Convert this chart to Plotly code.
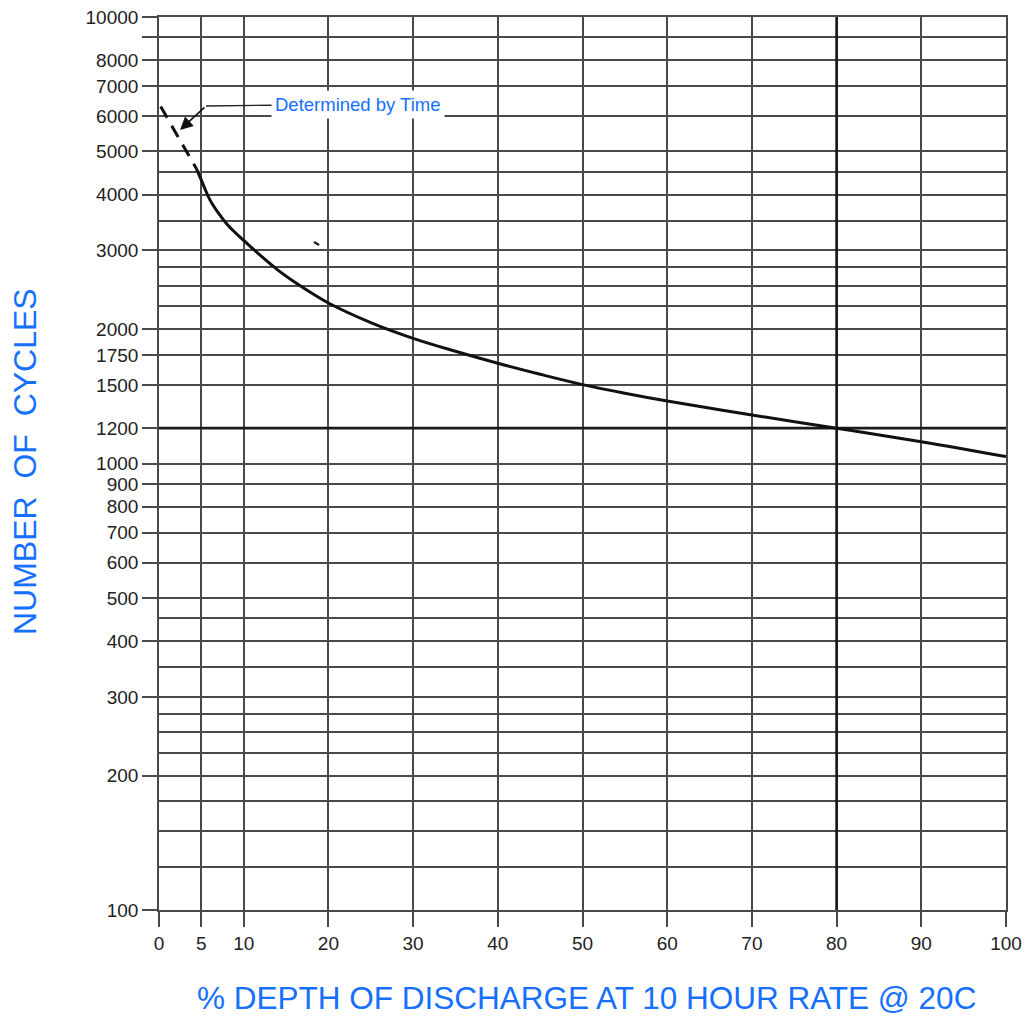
import math
import plotly.graph_objects as go

# ---- data ----
dod_dashed = [0.2, 1.5, 3.0, 4.4]
cycles_dashed = [6300, 5710, 5120, 4580]

dod_solid = [4.4, 5, 6, 7, 8, 9, 10, 12, 14, 16, 18, 20, 25, 30, 35, 40, 45, 50, 55, 60,
             70, 80, 90, 100]
cycles_solid = [4580, 4310, 3900, 3640, 3440, 3290, 3160, 2920, 2715, 2550, 2410, 2288, 2068,
                1907, 1784, 1677, 1584, 1502, 1437, 1380, 1284, 1200, 1119, 1036]

stray_x = [18.3, 18.9]
stray_y = [3134, 3086]

x_ticks = [0, 5, 10, 20, 30, 40, 50, 60, 70, 80, 90, 100]
y_major = [100, 200, 300, 400, 500, 600, 700, 800, 900, 1000, 1200, 1500, 1750, 2000,
           3000, 4000, 5000, 6000, 7000, 8000, 9000, 10000]
y_major_text = ["100", "200", "300", "400", "500", "600", "700", "800", "900", "1000", "1200",
                "1500", "1750", "2000", "3000", "4000", "5000", "6000", "7000", "8000", "", "10000"]
y_minor = [125, 150, 175, 225, 250, 275, 350, 450, 2250, 2500, 2750, 3500, 4500]

ref_x = 80
ref_y = 1200

# annotation anchor points (data coordinates)
arrow_tip = (2.48, 5585)
arrow_bend = (5.55, 6320)
label_pos = (23.5, 6380)

BLUE = "#1670ff"
GRID = "#4a4a4a"
FONT = "Liberation Sans, Arial, sans-serif"

fig = go.Figure()

# heavy reference lines
fig.add_trace(go.Scatter(x=[ref_x, ref_x], y=[100, 10000], mode="lines",
                         line=dict(color="#1a1a1a", width=2.6), hoverinfo="skip", showlegend=False))
fig.add_trace(go.Scatter(x=[0, 100], y=[ref_y, ref_y], mode="lines",
                         line=dict(color="#1a1a1a", width=2.6), hoverinfo="skip", showlegend=False))

fig.add_trace(go.Scatter(x=dod_dashed, y=cycles_dashed, mode="lines",
                         line=dict(color="#111111", width=3, dash="13px,9px"),
                         showlegend=False))
fig.add_trace(go.Scatter(x=dod_solid, y=cycles_solid, mode="lines", line_shape="spline",
                         line=dict(color="#111111", width=3, smoothing=1.0),
                         showlegend=False))
fig.add_trace(go.Scatter(x=stray_x, y=stray_y, mode="lines",
                         line=dict(color="#222222", width=2.5), showlegend=False))

# the page body adds an 8px margin, so the figure is 8px smaller on each axis
fig.update_layout(
    width=1023, height=1010,
    margin=dict(l=151, r=25, t=9, b=108, autoexpand=False),
    paper_bgcolor="white", plot_bgcolor="white",
    font=dict(family=FONT, size=19, color="#222222"),
    showlegend=False,
)

fig.update_xaxes(
    range=[0, 100], tickmode="array", tickvals=x_ticks,
    ticks="outside", ticklen=15, tickwidth=1.6, tickcolor=GRID,
    showgrid=True, gridcolor=GRID, gridwidth=1.6,
    showline=True, linecolor=GRID, linewidth=1.6, mirror=True,
    zeroline=False, tickfont=dict(size=19, color="#222222"), automargin=False,
    ticklabeloverflow="allow",
)
fig.update_yaxes(
    type="log", range=[2, 4], tickmode="array", tickvals=y_major, ticktext=y_major_text,
    ticks="outside", ticklen=15, tickwidth=1.6, tickcolor=GRID,
    showgrid=True, gridcolor=GRID, gridwidth=1.6,
    minor=dict(tickmode="array", tickvals=y_minor, showgrid=True,
               gridcolor=GRID, gridwidth=1.6, ticks=""),
    showline=True, linecolor=GRID, linewidth=1.6, mirror=True,
    zeroline=False, tickfont=dict(size=19, color="#222222"), automargin=False,
    ticklabeloverflow="allow",
)

# "Determined by Time" label with leader line
fig.add_annotation(
    x=arrow_bend[0], y=math.log10(arrow_bend[1]),
    ax=label_pos[0], ay=math.log10(label_pos[1]), axref="x", ayref="y",
    text="Determined by Time", showarrow=True, arrowhead=0, arrowwidth=1.4,
    arrowcolor="#222222", bgcolor="white", borderpad=3,
    font=dict(family=FONT, size=18.5, color=BLUE),
)
fig.add_annotation(
    x=arrow_tip[0], y=math.log10(arrow_tip[1]),
    ax=arrow_bend[0], ay=math.log10(arrow_bend[1]), axref="x", ayref="y",
    text="", showarrow=True, arrowhead=2, arrowsize=1.6, arrowwidth=1.6,
    arrowcolor="#111111", standoff=0, startstandoff=0,
)

# axis titles
fig.add_annotation(
    xref="paper", yref="paper", x=-0.159, y=0.502, xanchor="center", yanchor="middle",
    text="NUMBER&nbsp;&nbsp;OF&nbsp;&nbsp;CYCLES", textangle=-90, showarrow=False,
    font=dict(family=FONT, size=32, color=BLUE),
)
fig.add_annotation(
    xref="paper", yref="paper", x=0.505, y=-0.0985, xanchor="center", yanchor="middle",
    text="% DEPTH OF DISCHARGE AT 10 HOUR RATE @ 20C", showarrow=False,
    font=dict(family=FONT, size=31.5, color=BLUE),
)

fig.write_html("out.html")
